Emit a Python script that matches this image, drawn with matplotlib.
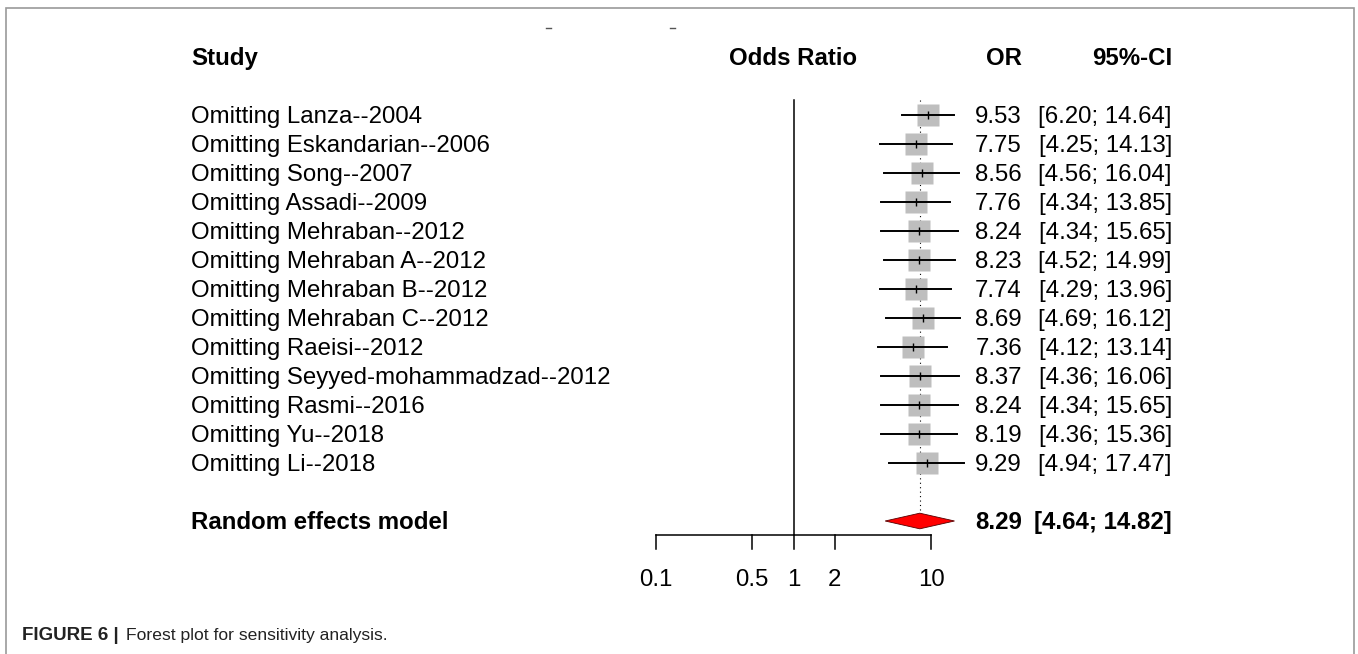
import numpy as np
import matplotlib
matplotlib.use("Agg")
from matplotlib import pyplot as plt
from matplotlib import transforms
from matplotlib.patches import Polygon, Rectangle

plt.rcParams['font.family'] = ['Liberation Sans', 'DejaVu Sans']

# Leave-one-out results
estudos = ["Omitting Lanza--2004", "Omitting Eskandarian--2006", "Omitting Song--2007",
           "Omitting Assadi--2009", "Omitting Mehraban--2012", "Omitting Mehraban A--2012",
           "Omitting Mehraban B--2012", "Omitting Mehraban C--2012", "Omitting Raeisi--2012",
           "Omitting Seyyed-mohammadzad--2012", "Omitting Rasmi--2016", "Omitting Yu--2018",
           "Omitting Li--2018"]
odds = [9.53, 7.75, 8.56, 7.76, 8.24, 8.23, 7.74, 8.69, 7.36, 8.37, 8.24, 8.19, 9.29]
ic_inf = [6.20, 4.25, 4.56, 4.34, 4.34, 4.52, 4.29, 4.69, 4.12, 4.36, 4.34, 4.36, 4.94]
ic_sup = [14.64, 14.13, 16.04, 13.85, 15.65, 14.99, 13.96, 16.12, 13.14, 16.06, 15.65, 15.36, 17.47]

# Random effects model
modelo_or = 8.29
modelo_inf = 4.64
modelo_sup = 14.82

ticks = [0.1, 0.5, 1, 2, 10]
tick_labels = ["0.1", "0.5", "1", "2", "10"]

W, H = 1358, 654
fig = plt.figure(figsize=(W / 100, H / 100), dpi=100)
ax = fig.add_axes([0, 0, 1, 1])
ax.set_xscale('log')
# 1 fica em x=793.5 px, uma década = 137.5 px; uma linha = 29 px, primeira linha em 115 px
ax.set_xlim(10 ** (-793.5 / 137.5), 10 ** ((W - 793.5) / 137.5))
ax.set_ylim((H - 115) / 29, -115 / 29)
ax.axis('off')

# texto: x em fração da figura, y em linhas
trans = transforms.blended_transform_factory(fig.transFigure, ax.transData)
fs = 17.3
base = 0.28  # deslocamento da linha de base

y_head = -2.0
ax.text(191 / W, y_head + base, "Study", transform=trans, fontsize=fs, fontweight='bold', va='baseline')
ax.text(1, y_head + base, "Odds Ratio", fontsize=fs, fontweight='bold', va='baseline', ha='center')
ax.text(1022 / W, y_head + base, "OR", transform=trans, fontsize=fs, fontweight='bold', va='baseline', ha='right')
ax.text(1172 / W, y_head + base, "95%-CI", transform=trans, fontsize=fs, fontweight='bold', va='baseline', ha='right')

n = len(estudos)
y_mod = n + 1

# linhas de referência
ax.plot([1, 1], [-0.52, 14.48], color='black', lw=1.1)
ax.plot([modelo_or, modelo_or], [-0.5, y_mod - 0.3], color='black', lw=0.8, ls=(0, (1, 3)))

for i in range(n):
    ax.plot(odds[i], i, marker='s', ms=15.8, color='#bebebe', mec='none', zorder=3)
    ax.plot([ic_inf[i], ic_sup[i]], [i, i], color='black', lw=1.4, zorder=4)
    ax.plot(odds[i], i, marker='|', ms=6, color='black', mew=1, zorder=5)
    ax.text(191 / W, i + base, estudos[i], transform=trans, fontsize=fs, va='baseline')
    ax.text(1022 / W, i + base, "%.2f" % odds[i], transform=trans, fontsize=fs, va='baseline', ha='right')
    ax.text(1172 / W, i + base, "[%.2f; %.2f]" % (ic_inf[i], ic_sup[i]), transform=trans,
            fontsize=fs, va='baseline', ha='right')

# diamante do modelo
losango = Polygon([[modelo_inf, y_mod], [modelo_or, y_mod - 0.27],
                   [modelo_sup, y_mod], [modelo_or, y_mod + 0.27]],
                  closed=True, facecolor='red', edgecolor='#550000', lw=0.6, zorder=3)
ax.add_patch(losango)
ax.text(191 / W, y_mod + base, "Random effects model", transform=trans, fontsize=fs,
        fontweight='bold', va='baseline')
ax.text(1022 / W, y_mod + base, "%.2f" % modelo_or, transform=trans, fontsize=fs,
        fontweight='bold', va='baseline', ha='right')
ax.text(1172 / W, y_mod + base, "[%.2f; %.2f]" % (modelo_inf, modelo_sup), transform=trans,
        fontsize=fs, fontweight='bold', va='baseline', ha='right')

# eixo x
y_eixo = 14.48
ax.plot([ticks[0], ticks[-1]], [y_eixo, y_eixo], color='black', lw=1.1)
for t, lab in zip(ticks, tick_labels):
    ax.plot([t, t], [y_eixo, y_eixo + 0.5], color='black', lw=1.1)
    ax.text(t, 16.24, lab, fontsize=fs, ha='center', va='baseline')

# marcas cortadas do título no topo
ax.plot([10 ** ((546 - 793.5) / 137.5), 10 ** ((551 - 793.5) / 137.5)], [-3.0, -3.0], color='#555555', lw=1)
ax.plot([10 ** ((670 - 793.5) / 137.5), 10 ** ((675 - 793.5) / 137.5)], [-3.0, -3.0], color='#555555', lw=1)

# moldura e legenda da figura
fig.patches.append(Rectangle((6 / W, -0.1), 1348 / W, 1.1 - 8 / H, transform=fig.transFigure,
                             fill=False, edgecolor='#9a9a9a', lw=1.2))
y_leg = 1 - 640 / H
fig.text(22 / W, y_leg, "FIGURE 6 |", fontsize=13.5, fontweight='bold', va='baseline', color='#222222')
fig.text(126 / W, y_leg, "Forest plot for sensitivity analysis.", fontsize=12.6, va='baseline', color='#222222')

plt.savefig("out.png", dpi=100)
